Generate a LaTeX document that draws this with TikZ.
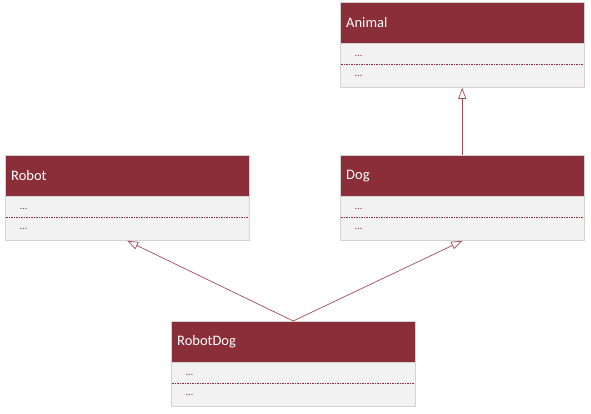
\documentclass[tikz,border=0pt]{standalone}
\usepackage{fontspec}
\setmainfont{Carlito}
\usetikzlibrary{arrows.meta,positioning,calc}
\definecolor{classred}{HTML}{8A2F3A}
\definecolor{classbody}{HTML}{F2F2F2}
\definecolor{classedge}{HTML}{D6D2D2}
\tikzset{
	classhead/.style={fill=classred,draw=classedge,anchor=north west,minimum width=244pt,minimum height=41pt,
		text width=232pt,inner sep=6pt,text=white,font=\fontsize{14.5}{16}\selectfont,align=left},
	classbody/.style={fill=classbody,draw=classedge,minimum width=244pt,minimum height=44pt,inner sep=0pt},
	dots/.style={text=classred,font=\fontsize{10}{11}\selectfont,inner sep=0pt,anchor=west},
	inherit/.style={draw=classred!85,line width=0.7pt,-{Triangle[open,length=11pt,width=8pt,fill=white]}}
}
\begin{document}
\begin{tikzpicture}[x=1pt,y=-1pt,line join=round]
	\useasboundingbox (0,0) rectangle (591,414);
	\foreach \n/\x/\y/\t in
	{
		animal/340/2/Animal,
		robot/5/155/Robot,
		dog/340/155/Dog,
		robotdog/171/321/RobotDog
	}
	{
		\node[classhead] (\n) at (\x,\y) {\t};
		\node[classbody,below=0pt of \n] (\n body) {};
		\draw[classred,dash pattern=on 1.6pt off 0.9pt,line width=0.8pt] ($(\n body.west)+(1,-1)$) -- ($(\n body.east)+(-1,-1)$);
		\node[dots] (\n attr) at ($(\n body.north west)+(15,13)$) {\dots};
		\node[dots] (\n oper) at ($(\n body.north west)+(15,33)$) {\dots};
	}
	\foreach \a/\b in {dog/animal, robotdog/robot, robotdog/dog}
	{
		\draw[inherit] (\a.north) -- (\b body.south);
	}
\end{tikzpicture}
\end{document}
